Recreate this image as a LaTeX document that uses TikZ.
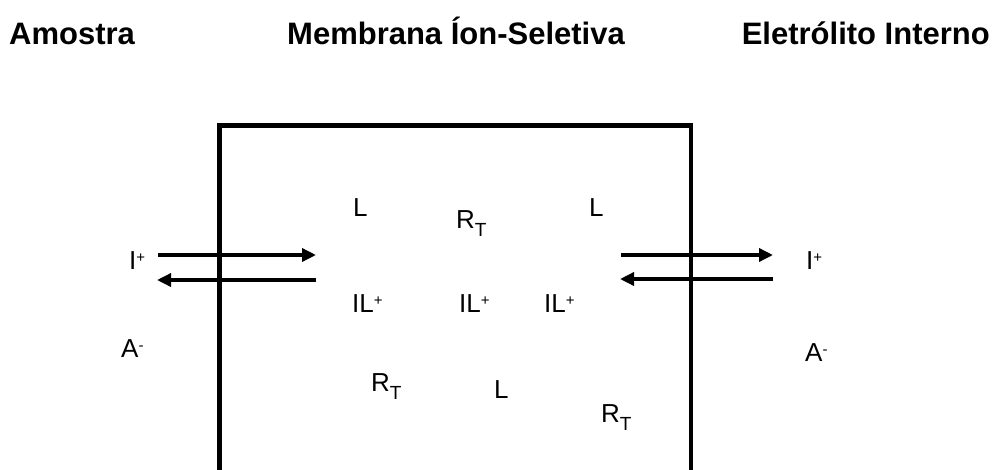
\documentclass[tikz,border=0pt]{standalone}
\usepackage{fontspec}
\setmainfont{Liberation Sans}
\usetikzlibrary{arrows.meta}
\newcommand{\supp}[1]{\raisebox{0.5ex}{\fontsize{15}{15}\selectfont #1}}
\newcommand{\subb}[1]{\raisebox{-8pt}{\fontsize{19}{19}\selectfont #1}}
\tikzset{
  title/.style={anchor=base west, inner sep=0pt, font=\fontsize{31}{35}\selectfont\bfseries},
  lbl/.style={anchor=base west, inner sep=0pt, font=\fontsize{26}{30}\selectfont},
  wall/.style={line width=4.5pt, line join=miter},
  flux/.style={line width=3.4pt, -{Triangle[length=14pt,width=13pt]}}
}
\begin{document}
\begin{tikzpicture}[x=1pt,y=-1pt]
\useasboundingbox (0,0) rectangle (996,469);
% titles
\node[title] (tA) at (9,44) {Amostra};
\node[title] (tM) at (287,44) {Membrana Íon-Seletiva};
\node[title, anchor=base east] (tE) at (990,44) {Eletrólito Interno};
% membrane walls
\coordinate (bl) at (219.5,471);
\coordinate (tl) at (219.5,125.5);
\coordinate (tr) at (691,125.5);
\coordinate (br) at (691,471);
\draw[wall] (bl) -- (tl) -- (tr) -- (br);
% arrows left
\coordinate (la1) at (158,255);
\coordinate (la2) at (316,255);
\coordinate (lb1) at (316,280);
\coordinate (lb2) at (157,280);
\draw[flux] (la1) -- (la2);
\draw[flux] (lb1) -- (lb2);
% arrows right
\coordinate (ra1) at (621,255);
\coordinate (ra2) at (773,255);
\coordinate (rb1) at (773,279);
\coordinate (rb2) at (620,279);
\draw[flux] (ra1) -- (ra2);
\draw[flux] (rb1) -- (rb2);
% outside labels
\node[lbl] (iL) at (129,269) {I\supp{+}};
\node[lbl] (iR) at (806,269) {I\supp{+}};
\node[lbl] (aL) at (121,357) {A\supp{-}};
\node[lbl] (aR) at (805,361) {A\supp{-}};
% inside labels
\node[lbl] (l1) at (353,216) {L};
\node[lbl] (r1) at (456,228) {R\subb{T}};
\node[lbl] (l2) at (589,216) {L};
\node[lbl] (il1) at (352,312) {IL\supp{+}};
\node[lbl] (il2) at (459,312) {IL\supp{+}};
\node[lbl] (il3) at (544,312) {IL\supp{+}};
\node[lbl] (r2) at (371,391) {R\subb{T}};
\node[lbl] (l3) at (494,398) {L};
\node[lbl] (r3) at (601,422) {R\subb{T}};
\end{tikzpicture}
\end{document}
